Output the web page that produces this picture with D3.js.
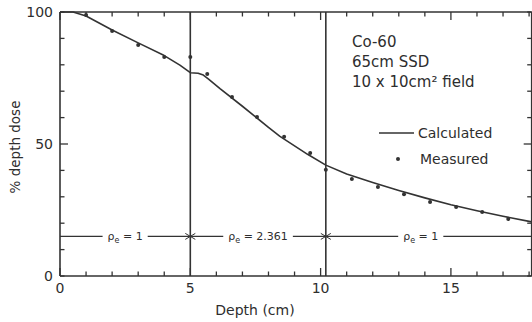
<!DOCTYPE html>
<html>
<head>
<meta charset="utf-8">
<script src="https://cdn.jsdelivr.net/npm/d3@7"></script>
<style>
  body { margin: 0; background: #fff; }
  text { font-family: "DejaVu Sans", sans-serif; fill: #2e2e2e; }
</style>
</head>
<body>
<svg id="chart" width="532" height="322"></svg>
<script>
// calculated curve
const calcDepth = [0, 0.5, 1, 2, 3, 4, 4.6, 5.0, 5.3, 5.5, 5.7, 6.14, 7, 8, 8.44, 9.5, 10.2, 11, 12, 13, 14, 15, 16, 17, 18.1];
const calcDose  = [100, 100, 98.5, 93.2, 88.3, 83.5, 79.9, 77.0, 76.8, 76.1, 74.6, 71.0, 64.3, 56.3, 52.9, 46.1, 42.0, 38.6, 35.4, 32.4, 29.6, 27.0, 24.7, 22.6, 20.5];

// measured points
const measDepth = [1.0, 2.0, 3.0, 4.0, 5.0, 5.65, 6.6, 7.56, 8.6, 9.6, 10.2, 11.2, 12.2, 13.2, 14.2, 15.2, 16.2, 17.2];
const measDose  = [98.9, 92.8, 87.5, 83.0, 83.0, 76.5, 67.8, 60.2, 52.7, 46.6, 40.2, 36.7, 33.7, 31.0, 28.0, 26.1, 24.2, 21.6];

// density regions
const boundaries = [0, 5, 10.2, 18.1];
const regionLabels = ["1", "2.361", "1"];
const regionLevel = 15;

const xTicks = [0, 5, 10, 15];
const yTicks = [0, 50, 100];
const infoLines = ["Co-60", "65cm  SSD", "10 x 10cm² field"];

const svg = d3.select("#chart");
const x = d3.scaleLinear().domain([0, 18.1]).range([60, 531.7]);
const y = d3.scaleLinear().domain([0, 100]).range([276, 12]);
const ink = "#333";

// axes (all ticks pointing inward)
const minorX = d3.range(0, 19, 1);
const minorY = d3.range(0, 101, 10);

function tickLen(v, major) { return major.includes(v) ? 8 : 4.5; }

const frame = svg.append("g").attr("stroke", ink).attr("stroke-width", 1.6).attr("fill", "none");
frame.append("line").attr("x1", x(0)).attr("x2", x.range()[1]).attr("y1", y(0)).attr("y2", y(0));
frame.append("line").attr("x1", x(0)).attr("x2", x.range()[1]).attr("y1", y(100)).attr("y2", y(100));
frame.append("line").attr("x1", x(0)).attr("x2", x(0)).attr("y1", y(0)).attr("y2", y(100));
frame.append("line").attr("x1", x.range()[1]).attr("x2", x.range()[1]).attr("y1", y(0)).attr("y2", y(100));

const ticks = svg.append("g").attr("stroke", ink).attr("stroke-width", 1.3);
minorX.forEach(v => {
  const L = tickLen(v, xTicks);
  ticks.append("line").attr("x1", x(v)).attr("x2", x(v)).attr("y1", y(0)).attr("y2", y(0) - L);
  ticks.append("line").attr("x1", x(v)).attr("x2", x(v)).attr("y1", y(100)).attr("y2", y(100) + L);
});
minorY.forEach(v => {
  const L = tickLen(v, [50]);
  ticks.append("line").attr("x1", x(0)).attr("x2", x(0) + L).attr("y1", y(v)).attr("y2", y(v));
  ticks.append("line").attr("x1", x.range()[1]).attr("x2", x.range()[1] - L).attr("y1", y(v)).attr("y2", y(v));
});

// tick labels
svg.append("g").selectAll("text").data(xTicks).join("text")
  .attr("x", d => x(d)).attr("y", 293)
  .attr("text-anchor", "middle").style("font-size", "14px")
  .text(d => d);
svg.append("g").selectAll("text").data(yTicks).join("text")
  .attr("x", 53).attr("y", d => y(d) + 5)
  .attr("text-anchor", "end").style("font-size", "14px")
  .text(d => d);

// axis titles
svg.append("text").attr("x", 255).attr("y", 315)
  .attr("text-anchor", "middle").style("font-size", "14px").text("Depth (cm)");
svg.append("text").attr("transform", "translate(20,147) rotate(-90)")
  .attr("text-anchor", "middle").style("font-size", "13.5px").text("% depth dose");

// boundary lines
svg.append("g").selectAll("line").data(boundaries.slice(1, 3)).join("line")
  .attr("x1", d => x(d)).attr("x2", d => x(d))
  .attr("y1", y(0)).attr("y2", y(100))
  .attr("stroke", ink).attr("stroke-width", 1.6);

// density region markers
const reg = svg.append("g");
regionLabels.forEach((lab, i) => {
  const a = x(boundaries[i]), b = x(boundaries[i + 1]);
  const mid = (a + b) / 2 + (i === 2 ? -8 : 0);
  const yy = y(regionLevel);
  const t = reg.append("text").attr("x", mid).attr("y", yy + 4)
    .attr("text-anchor", "middle").style("font-size", "11px");
  t.append("tspan").text("ρ");
  t.append("tspan").attr("dy", 3).style("font-size", "8px").text("e");
  t.append("tspan").attr("dy", -3).text(" = " + lab);
  const w = t.node().getComputedTextLength() / 2 + 5;
  reg.append("line").attr("x1", a).attr("x2", mid - w).attr("y1", yy).attr("y2", yy)
    .attr("stroke", ink).attr("stroke-width", 1.1);
  reg.append("line").attr("x1", mid + w).attr("x2", b).attr("y1", yy).attr("y2", yy)
    .attr("stroke", ink).attr("stroke-width", 1.1);
  // small arrowheads at interior boundaries
  [[a, 1], [b, -1]].forEach(([px, dir]) => {
    if (px <= x(0) + 1 || px >= x.range()[1] - 1) return;
    reg.append("path")
      .attr("d", `M${px + dir * 5},${yy - 3} L${px},${yy} L${px + dir * 5},${yy + 3}`)
      .attr("fill", "none").attr("stroke", ink).attr("stroke-width", 1);
  });
});

// calculated line
const calc = calcDepth.map((d, i) => [d, calcDose[i]]);
svg.append("path").datum(calc)
  .attr("d", d3.line().x(d => x(d[0])).y(d => y(d[1])).curve(d3.curveLinear))
  .attr("fill", "none").attr("stroke", ink).attr("stroke-width", 1.6)
  .attr("stroke-linejoin", "round");

// measured points
svg.append("g").selectAll("circle").data(measDepth).join("circle")
  .attr("cx", d => x(d)).attr("cy", (d, i) => y(measDose[i])).attr("r", 2)
  .attr("fill", ink);

// info text
svg.append("g").selectAll("text").data(infoLines).join("text")
  .attr("x", 352).attr("y", (d, i) => 47 + i * 20)
  .style("font-size", "15px").text(d => d);

// legend
svg.append("line").attr("x1", 379).attr("x2", 414).attr("y1", 133).attr("y2", 133)
  .attr("stroke", ink).attr("stroke-width", 1.5);
svg.append("text").attr("x", 418).attr("y", 138).style("font-size", "14px").text("Calculated");
svg.append("circle").attr("cx", 398).attr("cy", 159).attr("r", 2).attr("fill", ink);
svg.append("text").attr("x", 420).attr("y", 164).style("font-size", "14px").text("Measured");
</script>
</body>
</html>
